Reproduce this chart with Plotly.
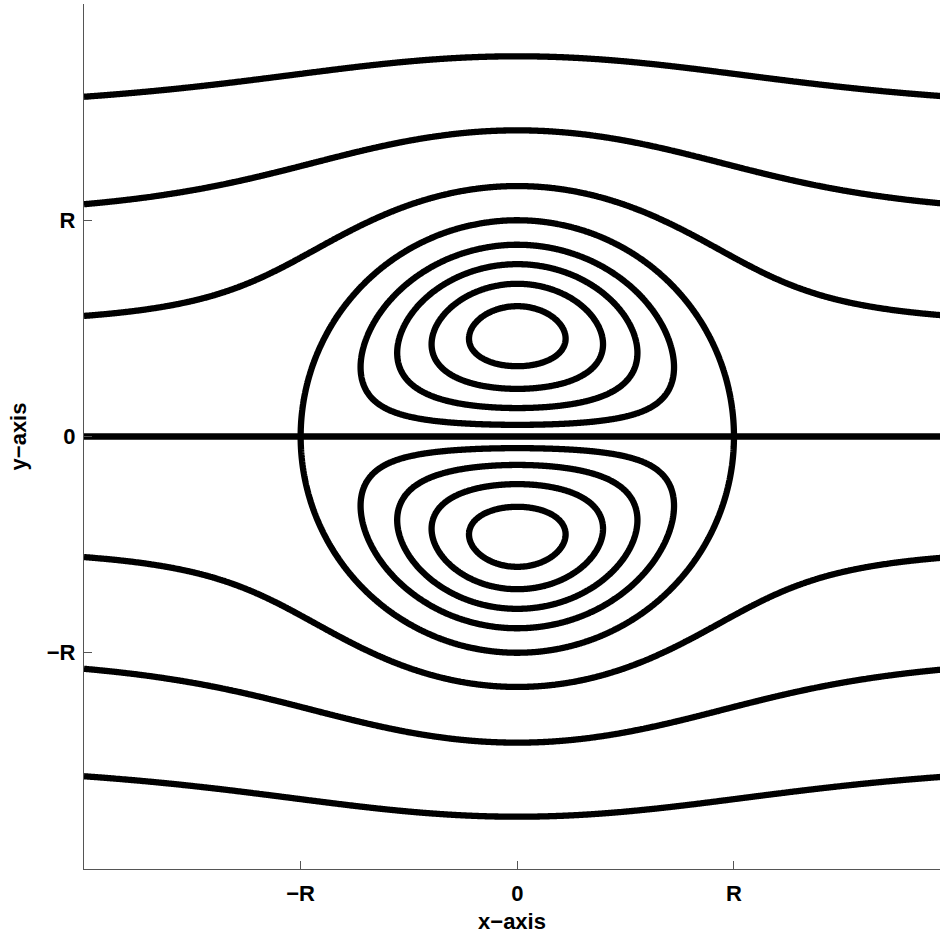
import numpy as np
import plotly.graph_objects as go

# ---- data ----
# contour levels of the streamfunction (inside and outside the vortex, radius R = 1)
inner_levels = [0.200, 0.322, 0.414, 0.482]
outer_levels = [0.428, 1.000, 1.652]
boundary_radius = [1.0]
axis_level = [0.0]
# model exponents fitted to the picture
inner_y_exp = 0.55
outer_y_exp = 1.25
outer_r_exp = 3.0
tick_vals = [-1, 0, 1]
tick_text = ["\u2212R", "0", "R"]

# ---- grids ----
xs = np.linspace(-2.0, 1.96, 700)
ys = np.linspace(-2.0, 2.0, 700)
X, Y = np.meshgrid(xs, ys)
R2 = X**2 + Y**2
Rr = np.sqrt(R2)
AY = np.abs(Y)

psi_in = AY**inner_y_exp * (1.0 - R2)
psi_out = AY**outer_y_exp * (1.0 - 1.0 / np.maximum(Rr, 0.05)**outer_r_exp)
psi_out = np.clip(psi_out, -5, None)

fig = go.Figure()

def add_level(z, level):
    fig.add_trace(go.Contour(
        x=xs, y=ys, z=z,
        autocontour=False,
        contours=dict(start=level, end=level, size=1, coloring="none"),
        line=dict(color="black", width=6.3, smoothing=1),
        showscale=False, hoverinfo="skip",
    ))

for L in inner_levels:
    add_level(psi_in, L)
for L in outer_levels:
    add_level(psi_out, L)
for L in boundary_radius:
    add_level(Rr, L)
for L in axis_level:
    add_level(Y, L)

fam = "Liberation Sans, Arial, sans-serif"
title_font = dict(family=fam, size=22, color="black")
tick_font = dict(family=fam, size=22, color="black", weight="bold")

fig.update_layout(
    width=940, height=940,
    margin=dict(l=84, r=0, t=4, b=71),
    paper_bgcolor="white", plot_bgcolor="white",
    showlegend=False,
    xaxis=dict(range=[-2.0, 1.951], tickvals=tick_vals, ticktext=tick_text,
               ticks="inside", ticklen=8, tickwidth=1, tickcolor="#555555",
               showline=True, linecolor="#555555", linewidth=1.3,
               showgrid=False, zeroline=False, mirror=False,
               tickfont=tick_font, ticklabelstandoff=4,
               title=dict(text="<b>x\u2212axis</b>", font=title_font, standoff=9)),
    yaxis=dict(range=[-2.0, 2.0], tickvals=tick_vals, ticktext=tick_text,
               ticks="inside", ticklen=8, tickwidth=1, tickcolor="#555555",
               showline=True, linecolor="#555555", linewidth=1.3,
               showgrid=False, zeroline=False, mirror=False,
               tickfont=tick_font, ticklabelstandoff=3,
               title=dict(text="<b>y\u2212axis</b>", font=title_font, standoff=14)),
)

fig.write_html("out.html", config={"displayModeBar": False},
               post_script="document.body.style.margin='0';")
